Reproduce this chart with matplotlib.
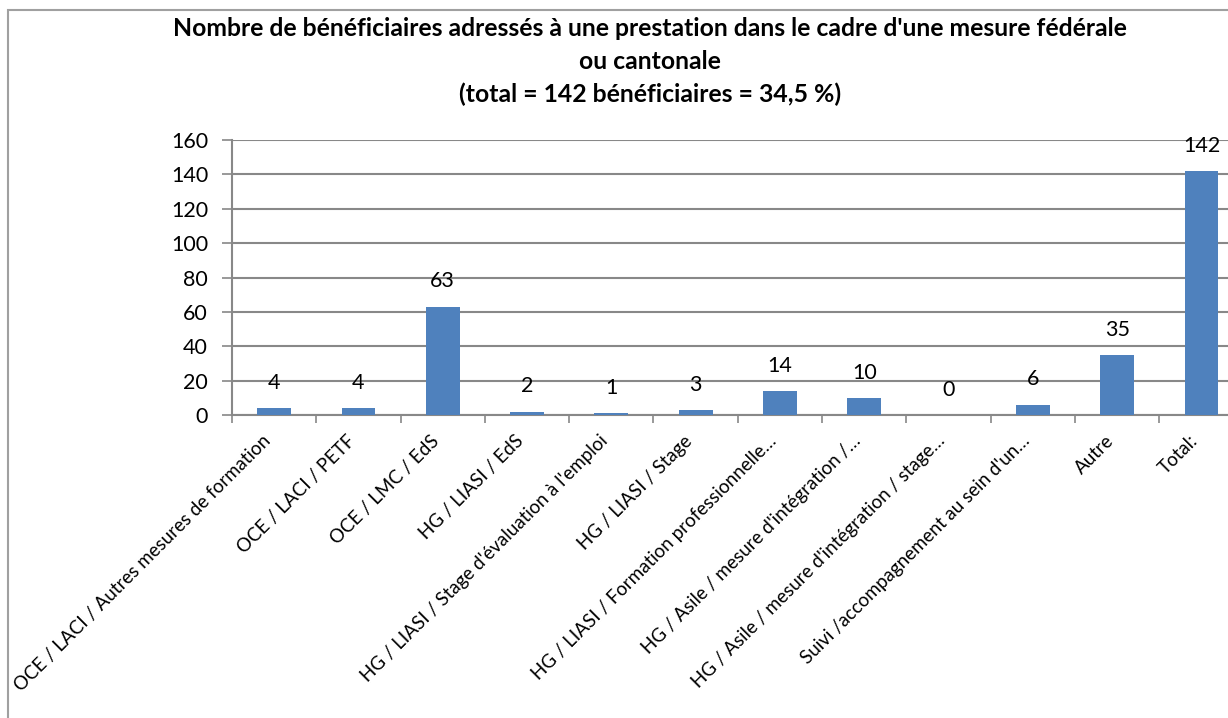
import matplotlib
matplotlib.use("Agg")
import matplotlib.pyplot as plt
from matplotlib.patches import Rectangle

plt.rcParams["font.family"] = ["Lato", "DejaVu Sans"]

categories = [
    "OCE / LACI / Autres mesures de formation",
    "OCE / LACI / PETF",
    "OCE / LMC / EdS",
    "HG / LIASI / EdS",
    "HG / LIASI / Stage d'évaluation à l'emploi",
    "HG / LIASI / Stage",
    "HG / LIASI / Formation professionnelle…",
    "HG / Asile / mesure d'intégration /…",
    "HG / Asile / mesure d'intégration / stage…",
    "Suivi /accompagnement au sein d'un…",
    "Autre",
    "Total:",
]
values = [4, 4, 63, 2, 1, 3, 14, 10, 0, 6, 35, 142]
yticks = [0, 20, 40, 60, 80, 100, 120, 140, 160]

title = ("Nombre de bénéficiaires adressés à une prestation dans le cadre d'une mesure fédérale\n"
         "ou cantonale\n"
         "(total = 142 bénéficiaires = 34,5 %)")

bar_color = "#4F81BD"
grid_color = "#888888"

fig = plt.figure(figsize=(12.28, 7.18), dpi=100)
ax = fig.add_axes([232 / 1228, 1 - 415 / 718, 12 * 84.3 / 1228, 275 / 718])

x = list(range(len(categories)))
ax.bar(x, values, width=0.4, color=bar_color, zorder=3)

for xi, v in zip(x, values):
    ax.annotate(str(v), (xi, v), xytext=(0, 11), textcoords="offset points",
                ha="center", va="bottom", fontsize=15.5, color="black")

ax.set_xlim(-0.5, len(categories) - 0.5)
ax.set_ylim(0, 160)
ax.set_yticks(yticks)
ax.set_yticklabels([str(t) for t in yticks], fontsize=15.5)
ax.yaxis.grid(True, color=grid_color, linewidth=1.5, zorder=0)
ax.tick_params(axis="y", length=7.2, width=1.2, color=grid_color, pad=10)

ax.set_xticks([i - 0.5 for i in x], minor=False)
ax.set_xticklabels([])
ax.tick_params(axis="x", which="major", length=6, width=1.2, color=grid_color, direction="out")
ax.set_xticks(x, minor=True)
ax.set_xticklabels(categories, minor=True, rotation=45, ha="right", va="bottom",
                   rotation_mode="anchor", fontsize=13.5)
ax.tick_params(axis="x", which="minor", length=0, pad=21)

for side in ["top", "right"]:
    ax.spines[side].set_visible(False)
ax.spines["left"].set_color(grid_color)
ax.spines["bottom"].set_color(grid_color)
ax.spines["left"].set_linewidth(1.5)
ax.spines["bottom"].set_linewidth(1.5)

fig.text(650 / 1228, 1 - 17 / 718, title, ha="center", va="top",
         fontsize=17.8, fontweight="bold", linespacing=1.52)

# chart frame (top and left edges visible)
fig.patches.append(Rectangle((8 / 1228, -0.05), 1.1, 1 - 10 / 718 + 0.05,
                             transform=fig.transFigure, fill=False,
                             edgecolor="#A0A0A0", linewidth=1.5))

fig.savefig("out.png", dpi=100)
